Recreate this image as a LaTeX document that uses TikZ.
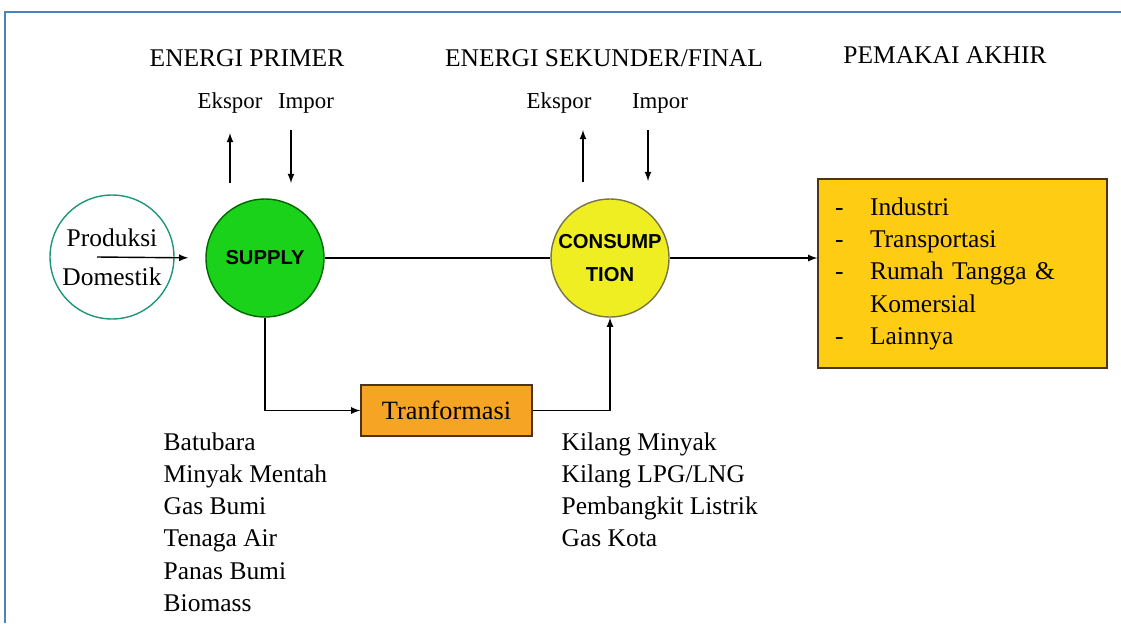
\documentclass[tikz,border=0pt]{standalone}
\usepackage{fontspec}
\setmainfont{Liberation Serif}
\setsansfont{Liberation Sans}
\usepackage{tikz}

\definecolor{frameblue}{RGB}{79,129,189}
\definecolor{prodteal}{RGB}{30,150,120}
\definecolor{supgreen}{RGB}{25,210,25}
\definecolor{conyellow}{RGB}{238,238,35}
\definecolor{endgold}{RGB}{255,204,20}
\definecolor{transorange}{RGB}{245,165,35}

\begin{document}
\begin{tikzpicture}[->,>=latex,thick,x=0.02cm,y=-0.02cm,
    lbl/.style={font=\fontsize{14.5}{18.3}\selectfont},
    small/.style={font=\fontsize{13}{15}\selectfont},
    ball/.style={draw,circle,minimum size=2.36cm,inner sep=0pt,
      font=\sffamily\bfseries\fontsize{11.5}{19}\selectfont,align=center}]
  \useasboundingbox (0,0) rectangle (1121,623);
  \draw[-,frameblue,line width=1.2pt] (5,623) -- (5,12) -- (1121,12);

  % judul
  \node[lbl] (primer) at (247,58) {ENERGI PRIMER};
  \node[lbl] (sekunder) at (604,58) {ENERGI SEKUNDER/FINAL};
  \node[lbl] (akhir) at (945,55) {PEMAKAI AKHIR};

  % lingkaran
  \node[draw=prodteal,circle,minimum size=2.48cm,inner sep=0pt,lbl,
    font=\fontsize{14.5}{22}\selectfont,align=center] (prod) at (112,257)
    {Produksi\\Domestik};
  \node[ball,fill=supgreen,draw=black!60!green] (supply) at (265,258) {SUPPLY};
  \node[ball,fill=conyellow,draw=black!60!yellow] (cons) at (610,258) {CONSUMP\\TION};
  \node[draw=black!60!brown,fill=endgold,minimum width=5.78cm,minimum height=3.78cm,
    inner xsep=0.34cm,text width=5.1cm,align=left,lbl] (pemakai) at (962.5,273.5)
    {\begin{tabular}{@{}p{0.7cm}@{}l@{}}
      - & Industri\\
      - & Transportasi\\
      - & Rumah Tangga \&\\
        & Komersial\\
      - & Lainnya
    \end{tabular}};
  \node[draw=black!60!brown,fill=transorange,minimum width=3.42cm,minimum height=1.02cm,
    lbl,font=\fontsize{15}{18}\selectfont] (trans) at (446.5,410.5) {Tranformasi};

  % ekspor / impor
  \node[small] (eks1) at (230,103) {Ekspor};
  \node[small] (imp1) at (306,103) {Impor};
  \node[small] (eks2) at (559,103) {Ekspor};
  \node[small] (imp2) at (660,103) {Impor};
  \coordinate (e1) at (230,183);
  \coordinate (i1) at (291,130);
  \coordinate (e2) at (583,182);
  \coordinate (i2) at (648,130);
  \draw (e1) -- ++(0,-50);
  \draw (i1) -- ++(0,53);
  \draw (e2) -- ++(0,-52);
  \draw (i2) -- ++(0,51);

  % aliran
  \coordinate (pin) at (97,257);
  \draw[shorten >=0.34cm] (pin) -- (supply.west);
  \draw[-] (supply.east) -- (cons.west);
  \draw (cons.east) -- (cons.east -| pemakai.west);
  \draw (supply.south) |- (trans.west);
  \draw (trans.east) -| (cons.south);

  % daftar
  \node[lbl,anchor=north west,inner sep=0pt,align=left] (primlist) at (163,432)
    {Batubara\\Minyak Mentah\\Gas Bumi\\Tenaga Air\\Panas Bumi\\Biomass};
  \node[lbl,anchor=north west,inner sep=0pt,align=left] (seklist) at (561,432)
    {Kilang Minyak\\Kilang LPG/LNG\\Pembangkit Listrik\\Gas Kota};
\end{tikzpicture}
\end{document}
